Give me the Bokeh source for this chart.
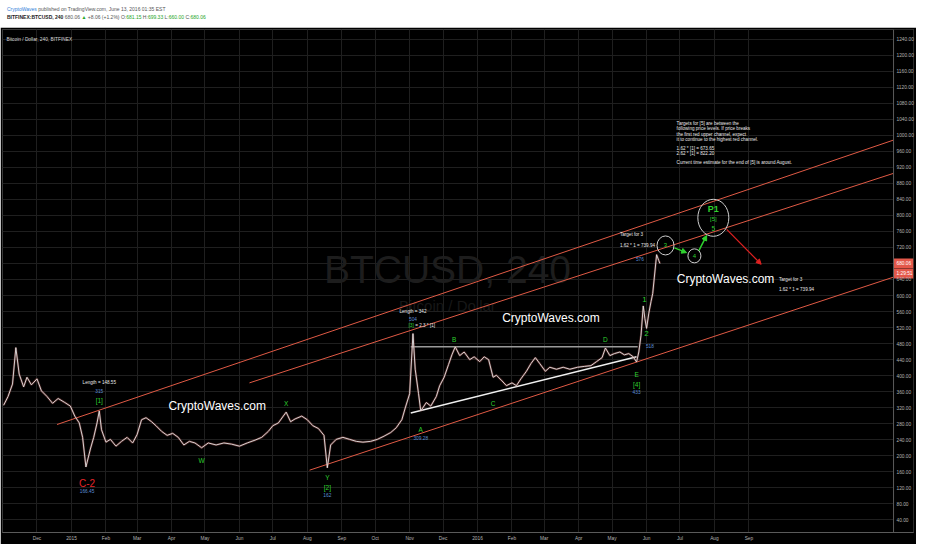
import pandas as pd
from bokeh.plotting import figure
from bokeh.models import (Range1d, FixedTicker, NumeralTickFormatter, Label, Arrow,
                          NormalHead, Div, ColumnDataSource, Span)
from bokeh.layouts import column
from bokeh.embed import file_html
from bokeh.resources import INLINE
from bokeh.core.properties import value

# ---------------- data ----------------
price_dates = [
    "2014-11-01", "2014-11-05", "2014-11-09", "2014-11-12", "2014-11-15", "2014-11-19",
    "2014-11-22", "2014-11-26", "2014-12-01", "2014-12-05", "2014-12-10", "2014-12-15",
    "2014-12-20", "2014-12-26", "2014-12-31", "2015-01-04", "2015-01-08", "2015-01-11",
    "2015-01-14", "2015-01-18", "2015-01-21", "2015-01-24", "2015-01-26", "2015-01-28",
    "2015-02-01", "2015-02-05", "2015-02-10", "2015-02-15", "2015-02-20", "2015-02-25",
    "2015-03-01", "2015-03-05", "2015-03-09", "2015-03-14", "2015-03-18", "2015-03-23",
    "2015-03-28", "2015-04-02", "2015-04-07", "2015-04-12", "2015-04-17", "2015-04-22",
    "2015-04-28", "2015-05-04", "2015-05-11", "2015-05-18", "2015-05-25", "2015-06-01",
    "2015-06-08", "2015-06-15", "2015-06-21", "2015-06-27", "2015-07-01", "2015-07-06",
    "2015-07-13", "2015-07-17", "2015-07-21", "2015-07-27", "2015-08-01", "2015-08-06",
    "2015-08-11", "2015-08-16", "2015-08-19", "2015-08-22", "2015-08-27", "2015-09-02",
    "2015-09-08", "2015-09-14", "2015-09-20", "2015-09-27", "2015-10-03", "2015-10-09",
    "2015-10-15", "2015-10-20", "2015-10-25", "2015-10-28", "2015-11-01", "2015-11-04",
    "2015-11-06", "2015-11-09", "2015-11-11", "2015-11-16", "2015-11-20", "2015-11-25",
    "2015-11-28", "2015-12-02", "2015-12-06", "2015-12-09", "2015-12-12", "2015-12-16",
    "2015-12-20", "2015-12-25", "2015-12-29", "2016-01-03", "2016-01-07", "2016-01-11",
    "2016-01-15", "2016-01-18", "2016-01-23", "2016-01-27", "2016-02-01", "2016-02-05",
    "2016-02-09", "2016-02-14", "2016-02-18", "2016-02-22", "2016-02-26", "2016-03-02",
    "2016-03-06", "2016-03-12", "2016-03-18", "2016-03-24", "2016-03-31", "2016-04-06",
    "2016-04-12", "2016-04-17", "2016-04-22", "2016-04-25", "2016-04-29", "2016-05-03",
    "2016-05-08", "2016-05-12", "2016-05-16", "2016-05-20", "2016-05-23", "2016-05-25",
    "2016-05-27", "2016-05-29", "2016-05-30 12:00", "2016-06-01", "2016-06-03", "2016-06-05",
    "2016-06-06 12:00", "2016-06-08", "2016-06-10", "2016-06-12", "2016-06-13",
]
price_close = [
    326, 348, 379, 470, 404, 372,
    396, 377, 392, 362, 348, 331,
    343, 333, 324, 299, 282, 246,
    172, 217, 246, 282, 312, 265,
    234, 241, 224, 236, 246, 232,
    253, 290, 295, 285, 275, 261,
    251, 256, 246, 227, 236, 232,
    220, 232, 227, 232, 229, 224,
    232, 239, 246, 261, 275, 282,
    309, 285, 292, 299, 290, 275,
    268, 251, 170, 227, 241, 246,
    241, 236, 234, 236, 241, 249,
    258, 270, 290, 319, 355, 505,
    416, 355, 312, 333, 324, 348,
    375, 396, 428, 452, 472, 450,
    459, 440, 447, 435, 447, 440,
    396, 401, 387, 375, 382, 375,
    392, 411, 430, 445, 430, 411,
    421, 416, 421, 416, 421, 423,
    425, 435, 445, 469, 450, 455,
    459, 452, 455, 447, 434, 459,
    501, 574, 542, 518, 556, 585,
    605, 646, 702, 687, 680,
]

y_ticks = list(range(40, 1241, 40))
month_starts = ["2014-12-01", "2015-01-01", "2015-02-01", "2015-03-01", "2015-04-01",
                "2015-05-01", "2015-06-01", "2015-07-01", "2015-08-01", "2015-09-01",
                "2015-10-01", "2015-11-01", "2015-12-01", "2016-01-01", "2016-02-01",
                "2016-03-01", "2016-04-01", "2016-05-01", "2016-06-01", "2016-07-01",
                "2016-08-01", "2016-09-01"]
month_names = ["Dec", "2015", "Feb", "Mar", "Apr", "May", "Jun", "Jul", "Aug", "Sep",
               "Oct", "Nov", "Dec", "2016", "Feb", "Mar", "Apr", "May", "Jun", "Jul",
               "Aug", "Sep"]

# drawn channel / trend lines (time, price)
chan_upper_dates = ["2014-12-19", "2017-01-09"]
chan_upper_prices = [278, 988]
chan_mid_dates = ["2015-06-10", "2017-01-09"]
chan_mid_prices = [382, 905]
chan_lower_dates = ["2015-08-03", "2017-01-09"]
chan_lower_prices = [164, 646]
resist_dates = ["2015-11-02", "2016-05-24"]
resist_prices = [472, 472]
support_dates = ["2015-11-02", "2016-05-23"]
support_prices = [307, 447]

# wave circles
circle_dates = ["2016-06-18", "2016-07-14", "2016-07-31"]
circle_prices = [725, 699, 794]

# arrows (start date, start price, end date, end price)
green_arrows = [("2016-06-26", 719, "2016-07-07", 707),
                ("2016-07-18", 712, "2016-07-25", 750)]
red_arrows = [("2016-08-12", 765, "2016-09-12", 678)]

# wave labels (centered)
wave_text = ["Length = 148.55", "315", "[1]", "C-2", "166.45", "W", "X", "Y", "[2]", "162",
             "Length = 342", "504", "A", "309.28", "B", "C", "D", "E", "[4]", "433",
             "576", "1", "2", "518", "3", "4", "P1", "[5]", "5"]
wave_dates = ["2015-01-26", "2015-01-26", "2015-01-26", "2015-01-15", "2015-01-15",
              "2015-04-28", "2015-07-13", "2015-08-19", "2015-08-19", "2015-08-19",
              "2015-11-04", "2015-11-04", "2015-11-11", "2015-11-11", "2015-12-11",
              "2016-01-15", "2016-04-25", "2016-05-23", "2016-05-23", "2016-05-23",
              "2016-05-26", "2016-05-30", "2016-06-01", "2016-06-04", "2016-06-18",
              "2016-07-14", "2016-07-31", "2016-07-31", "2016-07-31"]
wave_prices = [382, 362, 338, 132, 113, 188, 331, 147, 122, 103,
               559, 542, 266, 244, 491, 331, 489, 404, 377, 358,
               690, 590, 505, 474, 725, 699, 816, 792, 767]
wave_kind = ["info", "num", "wave", "red", "num", "wave", "wave", "wave", "wave", "num",
             "info", "num", "wave", "num", "wave", "wave", "wave", "wave", "wave", "num",
             "num", "big", "big", "num", "small", "small", "p1", "small", "wave"]

# left aligned notes
note_text = ["Target for 3", "1.62 * 1 = 739.94", "Target for 3", "1.62 * 1 = 739.94",
             "[3]", "= 2.3 * [1]",
             "Targets for [5] are between the",
             "following price levels. If price breaks",
             "the first red upper channel, expect",
             "it to continue to the highest red channel.",
             "1.62 * [1] = 673.65", "2.62 * [1] = 822.20",
             "Current time estimate for the end of [5] is around August."]
note_dates = ["2016-05-08", "2016-05-08", "2016-09-28", "2016-09-28",
              "2015-10-31", "2015-11-06",
              "2016-06-28", "2016-06-28", "2016-06-28", "2016-06-28",
              "2016-06-28", "2016-06-28", "2016-06-28"]
note_prices = [753, 724, 639, 615, 525, 525, 1029, 1016, 1003, 990, 967, 954, 931]
note_kind = ["info"] * 4 + ["wave3", "info"] + ["info"] * 7

brand_text = ["CryptoWaves.com", "CryptoWaves.com", "CryptoWaves.com"]
brand_dates = ["2016-08-11", "2016-03-07", "2015-05-12"]
brand_prices = [641, 544, 324]

last_price = 680.06
last_price_text = "680.06"
countdown = "1:29:51"

# ---------------- styling ----------------
GREEN = "#2fd12f"
BLUE = "#5b8ed6"
WHITE = "#e8e8e8"
RED = "#e3262a"
CHAN = "#e05a45"
TAG = "#e4584a"
FONT = "Liberation Sans"

kind_color = {"info": WHITE, "num": BLUE, "wave": GREEN, "red": RED, "big": GREEN,
              "small": GREEN, "p1": GREEN, "wave3": GREEN}
kind_size = {"info": "4.6px", "num": "4.8px", "wave": "6.5px", "red": "10px", "big": "8px",
             "small": "6px", "p1": "9px", "wave3": "4.8px"}
kind_style = {"info": "normal", "num": "normal", "wave": "normal", "red": "normal",
              "big": "normal", "small": "normal", "p1": "bold", "wave3": "normal"}


def ms(d):
    return pd.Timestamp(d).value / 1e6


W, H_HEAD, H_FIG = 916, 17, 517
BL, BR, BT, BB = 2, 1, 2, 12
STRIP = 20                                  # price-scale strip, inside the frame
CHART_PX = W - BL - BR - STRIP
X0, XC = ms("2014-10-31"), ms("2017-01-09")  # XC: where the price scale starts
ms_per_px = (XC - X0) / CHART_PX
X1 = XC + STRIP * ms_per_px
Y0, Y1 = 8.5, 1264
y_per_px = (Y1 - Y0) / (H_FIG - BT - BB)

p = figure(width=W, height=H_FIG, x_axis_type="datetime", y_axis_location="right",
           x_range=Range1d(X0, X1), y_range=Range1d(Y0, Y1),
           output_backend="svg", toolbar_location=None,
           min_border_left=BL, min_border_right=BR, min_border_top=BT, min_border_bottom=BB,
           background_fill_color="black", border_fill_color="black",
           outline_line_color="#3a3a3a")

# axes
p.yaxis.ticker = FixedTicker(ticks=y_ticks)
p.yaxis.formatter = NumeralTickFormatter(format="0.00")
p.yaxis.major_label_overrides = {680: ""}
month_ms = [ms(d) for d in month_starts]
p.xaxis.ticker = FixedTicker(ticks=month_ms)
p.xaxis.major_label_overrides = {m: n for m, n in zip(month_ms, month_names)}
for ax in (p.xaxis, p.yaxis):
    ax.major_label_text_font = FONT
    ax.major_label_text_font_size = "4.8px"
    ax.major_label_text_color = "#b4b4b4"
    ax.axis_line_color = "#5a5a5a"
    ax.major_tick_line_color = None
    ax.minor_tick_line_color = None
    ax.major_tick_out = 0
    ax.major_tick_in = 0
    ax.minor_tick_out = 0
    ax.minor_tick_in = 0
    ax.major_label_standoff = 3
# price labels are drawn inside the price-scale strip
p.yaxis.major_label_standoff = -17
p.yaxis.axis_line_color = None
p.xgrid.ticker = FixedTicker(ticks=month_ms)
p.ygrid.ticker = FixedTicker(ticks=y_ticks)
p.xgrid.grid_line_color = "#1f1f1f"
p.ygrid.grid_line_color = "#1f1f1f"

# price scale strip background + separator
p.quad(left=[XC], right=[X1], bottom=[Y0], top=[Y1], fill_color="black", line_color=None)
p.add_layout(Span(location=XC, dimension="height", line_color="#5a5a5a", line_width=1))

# last price tags
tag2_price = last_price - 10 * y_per_px
p.quad(left=[XC, XC], right=[X1, X1],
       bottom=[last_price - 5 * y_per_px, tag2_price - 5 * y_per_px],
       top=[last_price + 5 * y_per_px, tag2_price + 4.6 * y_per_px],
       fill_color=TAG, line_color=None)
p.text(x=[XC + 3 * ms_per_px] * 2, y=[last_price, tag2_price],
       text=[last_price_text, countdown], text_color="white", text_font=value(FONT),
       text_font_size="4.8px", text_align="left", text_baseline="middle")

# watermark
p.text(x=[ms("2015-12-05")], y=[665], text=["BTCUSD, 240"], text_color="#1d1d1d",
       text_font=value(FONT), text_font_size="39px", text_align="center",
       text_baseline="middle")
p.text(x=[ms("2015-12-05")], y=[575], text=["Bitcoin / Dollar"], text_color="#181818",
       text_font=value(FONT), text_font_size="15px", text_align="center",
       text_baseline="middle")

# channel and trend lines
for ds, ps in ((chan_upper_dates, chan_upper_prices), (chan_mid_dates, chan_mid_prices),
               (chan_lower_dates, chan_lower_prices)):
    p.line([ms(d) for d in ds], ps, line_color=CHAN, line_width=1)
p.line([ms(d) for d in resist_dates], resist_prices, line_color="#9a9a9a", line_width=1.6)
p.line([ms(d) for d in support_dates], support_prices, line_color="#f0f0f0", line_width=1.6)

# price
px = [ms(d) for d in price_dates]
p.line(px, price_close, line_color="#a85450", line_width=2.2, line_alpha=0.45)
p.line(px, price_close, line_color="#e4e4e4", line_width=0.9)

# circles
p.ellipse([ms(d) for d in circle_dates], circle_prices, width=[17, 13, 31],
          height=[19, 14, 37], width_units="screen", height_units="screen",
          fill_color=None, line_color="#cfcfcf", line_width=1)

# arrows
for x0, y0, x1, y1 in green_arrows:
    p.add_layout(Arrow(end=NormalHead(size=5, fill_color=GREEN, line_color=GREEN),
                       x_start=ms(x0), y_start=y0, x_end=ms(x1), y_end=y1,
                       line_color=GREEN, line_width=1.5))
for x0, y0, x1, y1 in red_arrows:
    p.add_layout(Arrow(end=NormalHead(size=5, fill_color="#e02020", line_color="#e02020"),
                       x_start=ms(x0), y_start=y0, x_end=ms(x1), y_end=y1,
                       line_color="#e02020", line_width=1.2))

# centered labels
src = ColumnDataSource(data=dict(
    x=[ms(d) for d in wave_dates], y=wave_prices, txt=wave_text,
    tcol=[kind_color[k] for k in wave_kind], tsz=[kind_size[k] for k in wave_kind],
    tsty=[kind_style[k] for k in wave_kind]))
p.text(x="x", y="y", text="txt", source=src, text_color="tcol", text_font_size="tsz",
       text_font_style="tsty", text_font=value(FONT), text_align="center",
       text_baseline="middle")

# left aligned notes
src2 = ColumnDataSource(data=dict(
    x=[ms(d) for d in note_dates], y=note_prices, txt=note_text,
    tcol=[kind_color[k] for k in note_kind], tsz=[kind_size[k] for k in note_kind]))
p.text(x="x", y="y", text="txt", source=src2, text_color="tcol", text_font_size="tsz",
       text_font=value(FONT), text_align="left", text_baseline="middle")

# brand texts
p.text(x=[ms(d) for d in brand_dates], y=brand_prices, text=brand_text,
       text_color="white", text_font=value(FONT),
       text_font_size="12px", text_align="center", text_baseline="middle")

# symbol description top-left
p.add_layout(Label(x=4, y=H_FIG - 14 - 10, x_units="screen", y_units="screen",
                   text="Bitcoin / Dollar, 240, BITFINEX", text_color="#d8d8d8",
                   text_font=FONT, text_font_size="4.8px", text_baseline="middle"))

G = "#26a626"
header_html = (
    '<div style="font-family:\'Liberation Sans\',Arial,sans-serif;font-size:5px;'
    'line-height:8px;color:#555;padding-left:2px;">'
    '<span style="color:#2f7ed8">CryptoWaves</span> published on TradingView.com, '
    'June 13, 2016 01:35 EST<br>'
    '<b style="color:#222">BITFINEX:BTCUSD, 240</b> 680.06 '
    f'<span style="color:{G}">&#9650;</span> +8.06 (+1.2%) '
    f'O:<span style="color:{G}">681.15</span> H:<span style="color:{G}">699.33</span> '
    f'L:<span style="color:{G}">660.00</span> C:<span style="color:{G}">680.06</span></div>'
)
header = Div(text=header_html, width=W, height=H_HEAD,
             styles={"background-color": "white"})

layout = column(header, p, spacing=0)
open("out.html", "w").write(file_html(layout, INLINE))
